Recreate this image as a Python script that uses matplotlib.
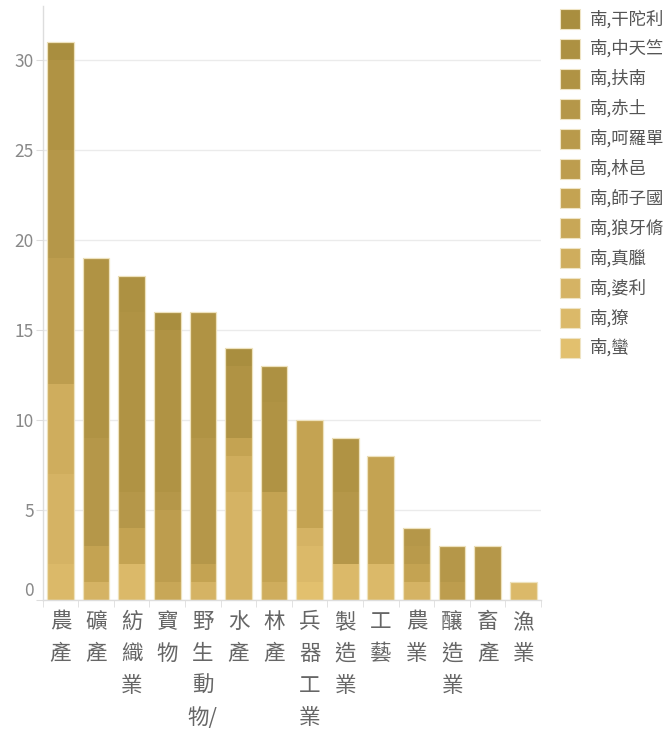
import matplotlib
matplotlib.use("Agg")
import matplotlib.pyplot as plt
from matplotlib.patches import Rectangle
import numpy as np

plt.rcParams['font.family'] = ['Noto Sans CJK TC', 'DejaVu Sans']

categories = ['農產', '礦產', '紡織業', '寶物', '野生動物/', '水產', '林產',
              '兵器工業', '製造業', '工藝', '農業', '釀造業', '畜產', '漁業']

series_names = ['南,干陀利', '南,中天竺', '南,扶南', '南,赤土', '南,呵羅單', '南,林邑',
                '南,師子國', '南,狼牙脩', '南,真臘', '南,婆利', '南,獠', '南,蠻']

ganduoli  = [1, 0, 0, 1, 0, 1, 0, 0, 0, 0, 0, 0, 0, 0]
zhongtianzhu = [0, 0, 2, 0, 0, 0, 2, 0, 0, 0, 0, 0, 0, 0]
funan     = [5, 10, 10, 9, 7, 4, 5, 0, 3, 0, 0, 0, 0, 0]
chitu     = [6, 6, 2, 1, 7, 0, 0, 0, 4, 0, 1, 2, 3, 0]
heluodan  = [0, 0, 0, 0, 0, 0, 0, 0, 0, 0, 1, 0, 0, 0]
linyi     = [7, 0, 0, 4, 0, 0, 0, 0, 0, 0, 0, 1, 0, 0]
shiziguo  = [0, 2, 2, 0, 1, 1, 5, 6, 0, 6, 1, 0, 0, 0]
langyaxiu = [0, 0, 0, 1, 0, 0, 0, 0, 0, 0, 0, 0, 0, 0]
zhenla    = [5, 0, 0, 0, 0, 2, 1, 0, 0, 0, 0, 0, 0, 0]
poli      = [5, 1, 0, 0, 1, 6, 0, 1, 0, 0, 1, 0, 0, 0]
liao      = [2, 0, 2, 0, 0, 0, 0, 2, 2, 2, 0, 0, 0, 1]
man       = [0, 0, 0, 0, 0, 0, 0, 1, 0, 0, 0, 0, 0, 0]

series_values = [ganduoli, zhongtianzhu, funan, chitu, heluodan, linyi,
                 shiziguo, langyaxiu, zhenla, poli, liao, man]

colors = ['#a98e3f', '#ad9142', '#b09344', '#b59749', '#b99a4b', '#bd9d4e',
          '#c4a352', '#c8a757', '#cfad5d', '#d5b364', '#dbb969', '#e2c06e']

yticks = [0, 5, 10, 15, 20, 25, 30]

W, H = 669, 731
fig = plt.figure(figsize=(W / 100, H / 100), dpi=100)
ax = fig.add_axes([42.7 / W, (H - 600) / H, (541 - 42.7) / W, (600 - 6) / H])

x = np.arange(len(categories))
bar_w = 0.75
bottom = np.zeros(len(categories))
# stack from the lightest series at the bottom to the darkest on top
for vals, col in zip(series_values[::-1], colors[::-1]):
    v = np.array(vals, dtype=float)
    ax.bar(x, v, bar_w, bottom=bottom, color=col, edgecolor='none', zorder=2)
    bottom += v

# thin light outline around each stacked bar
for xi, tot in zip(x, bottom):
    ax.add_patch(Rectangle((xi - bar_w / 2, 0), bar_w, tot, fill=False,
                           edgecolor='#eee2bd', linewidth=0.9, zorder=3))

ax.set_xlim(-0.5, len(categories) - 0.5)
ax.set_ylim(0, 33)

ax.set_yticks(yticks)
ax.set_yticklabels([str(t) for t in yticks])
ax.yaxis.grid(True, color='#ebebeb', linewidth=1, zorder=0)
ax.set_axisbelow(True)
ax.tick_params(axis='y', length=5, color='#dddddd', labelcolor='#888888',
               labelsize=12.5, pad=1.5)
lbl0 = ax.get_yticklabels()[0]
lbl0.set_verticalalignment('bottom')

ax.set_xticks(x)
ax.set_xticklabels(['\n'.join(list(c[:-2]) + [c[-2:]]) if c.endswith('/') else '\n'.join(c)
                    for c in categories], linespacing=1.58)
ax.set_xticks(np.arange(len(categories) + 1) - 0.5, minor=True)
ax.tick_params(axis='x', which='major', length=0, pad=8, labelsize=15.5,
               labelcolor='#666666')
ax.tick_params(axis='x', which='minor', length=5, color='#dddddd')
for lab in ax.get_xticklabels():
    lab.set_verticalalignment('top')

for s in ['top', 'right']:
    ax.spines[s].set_visible(False)
for s in ['left', 'bottom']:
    ax.spines[s].set_color('#dddddd')
    ax.spines[s].set_linewidth(1)

# legend drawn in pixel positions on the figure
for i, (name, col) in enumerate(zip(series_names, colors)):
    cy = 19 + i * 29.9
    fig.add_artist(Rectangle((560 / W, (H - cy - 10) / H), 20 / W, 20 / H,
                             transform=fig.transFigure, facecolor=col,
                             edgecolor='#efe4c4', linewidth=0.8))
    fig.text(590 / W, (H - cy) / H, name, fontsize=12.5, color='#555555',
             va='center', ha='left')

fig.savefig('out.png', dpi=100, facecolor='white')
